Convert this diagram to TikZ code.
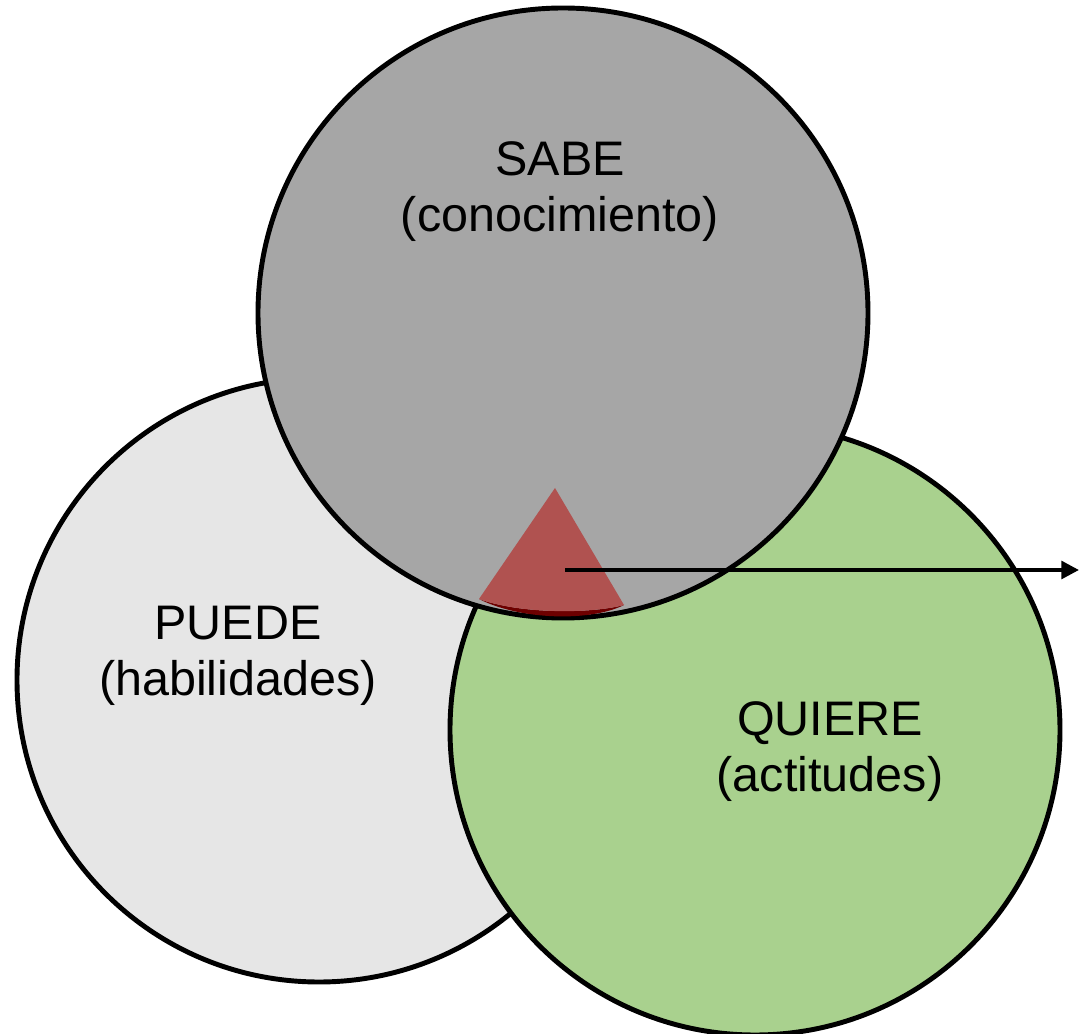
\documentclass[tikz,border=0pt]{standalone}
\usepackage{fontspec}
\setmainfont{Liberation Sans}
\usepackage{xcolor}
\usetikzlibrary{arrows.meta}

\definecolor{puedegray}{RGB}{230,230,230}
\definecolor{sabegray}{RGB}{166,166,166}
\definecolor{quieregreen}{RGB}{169,209,142}
\definecolor{redcore}{RGB}{176,82,80}
\definecolor{darkcore}{RGB}{110,0,0}

\begin{document}
\begin{tikzpicture}[
	ring/.style={circle, draw=black, line width=1.4pt, inner sep=0pt, outer sep=0pt},
	label/.style={align=center, font=\fontsize{13.8}{15.9}\selectfont}
	]
	\useasboundingbox (0,0) rectangle (10.79,-10.34);
	% circles
	\node[ring, fill=puedegray, minimum size=6.04cm] (puede) at (3.19,-6.80) {};
	\node[ring, fill=quieregreen, minimum size=6.10cm] (quiere) at (7.55,-7.30) {};
	\node[ring, fill=sabegray, minimum size=6.10cm] (sabe) at (5.63,-3.13) {};
	% texts
	\node[label] (sabetxt) at (5.60,-1.92) {SABE\\(conocimiento)};
	\node[label] (puedetxt) at (2.38,-6.56) {PUEDE\\(habilidades)};
	\node[label] (quieretxt) at (8.30,-7.52) {QUIERE\\(actitudes)};
	% core
	\fill[darkcore] (4.79,-5.99) .. controls (5.20,-6.20) and (5.90,-6.22) .. (6.24,-6.05)
		.. controls (5.90,-6.14) and (5.20,-6.14) .. cycle;
	\fill[redcore] (5.55,-4.88) coordinate (apex) -- (4.79,-5.99)
		.. controls (5.20,-6.14) and (5.90,-6.14) .. (6.24,-6.05) -- cycle;
	\coordinate (start) at (5.65,-5.70);
	\coordinate (stop) at (10.79,-5.70);
	\draw[line width=1.1pt, -{Triangle[length=5pt, width=5pt]}] (start) -- (stop);
\end{tikzpicture}
\end{document}
